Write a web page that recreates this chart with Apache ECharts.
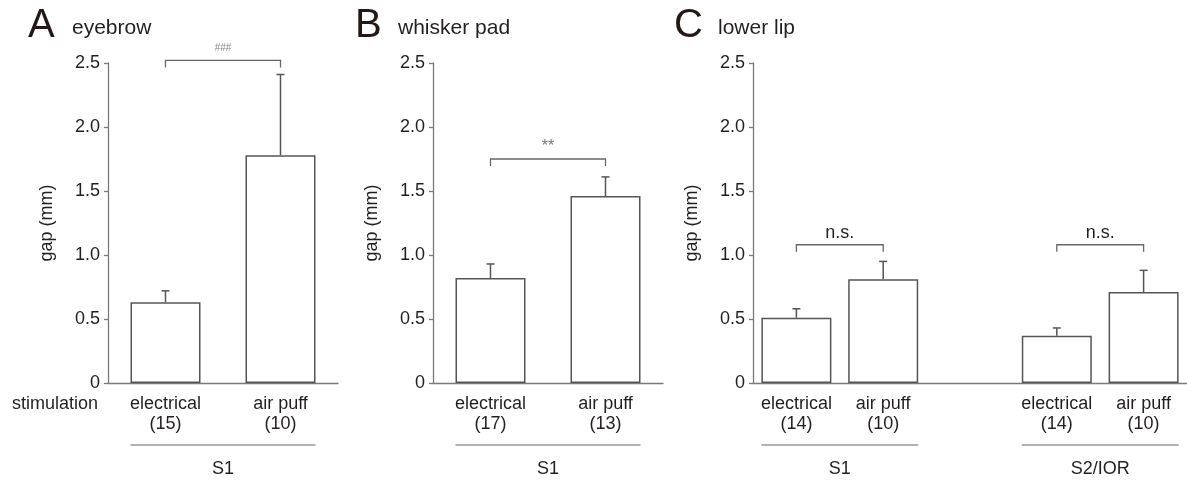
<!DOCTYPE html>
<html>
<head>
<meta charset="utf-8">
<script src="https://cdn.jsdelivr.net/npm/echarts@6/dist/echarts.min.js"></script>
<style>
html, body { margin: 0; background: #fff; }
#chart { width: 1187px; height: 483px; }
</style>
</head>
<body>
<div id="chart"></div>
<script>
// values
const panelLetters = ['A', 'B', 'C'];
const panelTitles = ['eyebrow', 'whisker pad', 'lower lip'];
const catsA = ['electrical\n(15)', 'air puff\n(10)'];
const catsB = ['electrical\n(17)', 'air puff\n(13)'];
const catsC = ['electrical\n(14)', 'air puff\n(10)', '', 'electrical\n(14)', 'air puff\n(10)'];
const meanA = [0.63, 1.78];
const meanB = [0.82, 1.46];
const meanC = [0.51, 0.81, null, 0.37, 0.71];
const errTopA = [0.72, 2.41];
const errTopB = [0.93, 1.61];
const errTopC = [0.58, 0.95, null, 0.43, 0.88];
const yTicks = [0, 0.5, 1.0, 1.5, 2.0, 2.5];
// significance brackets: [from, to, height, mark]
const sigA = [[0, 1, 2.52, '###']];
const sigB = [[0, 1, 1.75, '**']];
const sigC = [[0, 1, 1.08, 'n.s.'], [3, 4, 1.08, 'n.s.']];
// groups under the axis: [from, to, name]
const groupsA = [[0, 1, 'S1']];
const groupsB = [[0, 1, 'S1']];
const groupsC = [[0, 1, 'S1'], [3, 4, 'S2/IOR']];

const FONT = '"Liberation Sans", Arial, sans-serif';
const TXT = '#231f20';
const AXIS = '#7a7a7a';
const BAR_W = 70;
const markSize = { '###': 10, '**': 16, 'n.s.': 18 };
const markColor = { '###': '#888', '**': '#777', 'n.s.': TXT };

let myChart = echarts.init(document.getElementById('chart'));

const panels = [
    { cats: catsA, mean: meanA, top: errTopA, sig: sigA, groups: groupsA },
    { cats: catsB, mean: meanB, top: errTopB, sig: sigB, groups: groupsB },
    { cats: catsC, mean: meanC, top: errTopC, sig: sigC, groups: groupsC }
];
const grids = [
    { left: 108, top: 63, width: 230, height: 320 },
    { left: 433, top: 63, width: 230, height: 320 },
    { left: 753, top: 63, width: 435, height: 320 }
];

function errorItem(params, api) {
    const base = api.coord([api.value(0), api.value(1)]);
    const top = api.coord([api.value(0), api.value(2)]);
    const st = { stroke: '#555', lineWidth: 1.5 };
    return { type: 'group', children: [
        { type: 'line', shape: { x1: base[0], y1: base[1], x2: top[0], y2: top[1] }, style: st },
        { type: 'line', shape: { x1: top[0] - 4, y1: top[1], x2: top[0] + 4, y2: top[1] }, style: st }
    ] };
}

function sigItem(list) {
    return function (params, api) {
        const d = list[params.dataIndex];
        const a = api.coord([d[0], d[2]]);
        const b = api.coord([d[1], d[2]]);
        const st = { stroke: '#666', lineWidth: 1.3, fill: null };
        return { type: 'group', children: [
            { type: 'polyline', shape: { points: [[a[0], a[1] + 7], [a[0], a[1]], [b[0], b[1]], [b[0], b[1] + 7]] }, style: st },
            { type: 'text', x: (a[0] + b[0]) / 2, y: a[1] - 12,
              style: { text: d[3], fill: markColor[d[3]], font: markSize[d[3]] + 'px ' + FONT, textAlign: 'center', textVerticalAlign: 'middle' } }
        ] };
    };
}

function groupItem(list) {
    return function (params, api) {
        const d = list[params.dataIndex];
        const a = api.coord([d[0], 0]);
        const b = api.coord([d[1], 0]);
        const x1 = a[0] - BAR_W / 2, x2 = b[0] + BAR_W / 2;
        return { type: 'group', children: [
            { type: 'line', shape: { x1: x1, y1: a[1] + 62, x2: x2, y2: a[1] + 62 }, style: { stroke: '#999', lineWidth: 1.3 } },
            { type: 'text', x: (x1 + x2) / 2, y: a[1] + 86,
              style: { text: d[2], fill: TXT, font: '18px ' + FONT, textAlign: 'center', textVerticalAlign: 'middle' } }
        ] };
    };
}

let xAxes = [], yAxes = [], series = [];
panels.forEach(function (p, k) {
    xAxes.push({
        type: 'category', gridIndex: k, data: p.cats,
        axisLine: { lineStyle: { color: AXIS, width: 1.3 } },
        axisTick: { show: false },
        axisLabel: { color: TXT, fontSize: 18, fontFamily: FONT, lineHeight: 20, margin: 11, interval: 0 }
    });
    yAxes.push({
        type: 'value', gridIndex: k, min: yTicks[0], max: yTicks[yTicks.length - 1], interval: 0.5,
        name: 'gap (mm)', nameLocation: 'middle', nameGap: 52,
        nameTextStyle: { color: TXT, fontSize: 18, fontFamily: FONT },
        axisLine: { show: true, lineStyle: { color: AXIS, width: 1.3 } },
        axisTick: { show: true, length: 4, lineStyle: { color: AXIS, width: 1.3 } },
        splitLine: { show: false },
        axisLabel: { color: TXT, fontSize: 18, fontFamily: FONT, margin: 8,
            formatter: function (v) { return v === 0 ? '0' : v.toFixed(1); } }
    });
    series.push({
        type: 'bar', xAxisIndex: k, yAxisIndex: k, barWidth: BAR_W,
        data: p.mean,
        itemStyle: { color: '#fff', borderColor: '#555', borderWidth: 1.5 },
        silent: true
    });
    series.push({
        type: 'custom', xAxisIndex: k, yAxisIndex: k, renderItem: errorItem, z: 3,
        data: p.mean.map(function (m, i) { return m == null ? null : [i, m, p.top[i]]; }).filter(function (d) { return d; })
    });
    series.push({
        type: 'custom', xAxisIndex: k, yAxisIndex: k, renderItem: sigItem(p.sig),
        data: p.sig.map(function (s) { return [s[0], s[2]]; })
    });
    series.push({
        type: 'custom', xAxisIndex: k, yAxisIndex: k, renderItem: groupItem(p.groups),
        data: p.groups.map(function (g) { return [g[0], 0]; })
    });
});

const letterX = [28, 355, 674];
const titleX = [72, 398, 718];
let graphics = [];
panelLetters.forEach(function (l, k) {
    graphics.push({ type: 'text', left: letterX[k], top: 6,
        style: { text: l, fill: '#231815', font: '40px ' + FONT } });
    graphics.push({ type: 'text', left: titleX[k], top: 18,
        style: { text: panelTitles[k], fill: TXT, font: '21px ' + FONT } });
});
graphics.push({ type: 'text', left: 12, top: 395,
    style: { text: 'stimulation', fill: TXT, font: '18px ' + FONT } });

let option = {
    animation: false,
    grid: grids,
    xAxis: xAxes,
    yAxis: yAxes,
    series: series,
    graphic: graphics
};
myChart.setOption(option);
window.addEventListener('resize', function () { myChart.resize(); });
</script>
</body>
</html>
